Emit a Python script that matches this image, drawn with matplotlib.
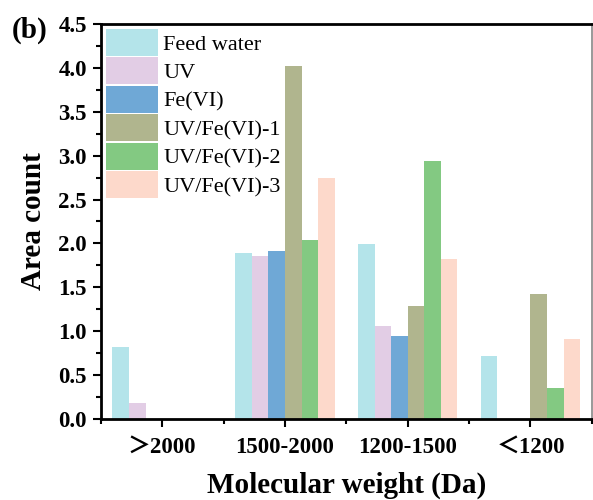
import matplotlib
matplotlib.use("Agg")
import matplotlib.pyplot as plt
import numpy as np
from matplotlib.ticker import MultipleLocator

categories = ["＞2000", "1500-2000", "1200-1500", "＜1200"]
series_names = ["Feed water", "UV", "Fe(VI)", "UV/Fe(VI)-1", "UV/Fe(VI)-2", "UV/Fe(VI)-3"]
feed_water = [0.82, 1.89, 1.99, 0.72]
uv = [0.18, 1.86, 1.06, 0.0]
fe6 = [0.0, 1.91, 0.95, 0.0]
uv_fe1 = [0.0, 4.02, 1.29, 1.42]
uv_fe2 = [0.0, 2.04, 2.94, 0.35]
uv_fe3 = [0.0, 2.74, 1.82, 0.91]
colors = ["#B4E4EA", "#E2CDE5", "#6FA8D6", "#B0B58E", "#83C982", "#FDD9CB"]

plt.rcParams['font.family'] = ['Liberation Serif', 'Noto Sans CJK SC']

fig = plt.figure(figsize=(5.93, 5.0), dpi=100)
ax = fig.add_axes([0.170, 0.162, 0.828, 0.790])

x = np.arange(len(categories))
w = 0.135
all_vals = [feed_water, uv, fe6, uv_fe1, uv_fe2, uv_fe3]
for i, (vals, name, c) in enumerate(zip(all_vals, series_names, colors)):
    ax.bar(x + (i - 2.5) * w, vals, width=w, color=c, label=name, edgecolor='none')

ax.set_xlim(-0.5, 3.5)
ax.set_ylim(0, 4.5)
ax.yaxis.set_minor_locator(MultipleLocator(0.25))
ax.set_xticks(x)
ax.set_xticks(np.arange(-0.5, 3.6, 1.0), minor=True)
ax.set_xticklabels(categories, fontsize=16.5, fontweight='bold')
yt = np.arange(0, 4.51, 0.5)
ax.set_yticks(yt)
ax.set_yticklabels([f"{v:.1f}" for v in yt], fontsize=16.5, fontweight='bold')

ax.tick_params(axis='both', which='major', direction='out', length=6, width=1.5, pad=4)
ax.tick_params(axis='both', which='minor', direction='out', length=3.5, width=1.5)
ax.tick_params(axis='x', which='major', pad=7)

for s in ['left', 'bottom', 'top']:
    ax.spines[s].set_linewidth(2.0)
    ax.spines[s].set_color('black')
ax.spines['right'].set_linewidth(1.2)
ax.spines['right'].set_color('#888888')

ax.set_ylabel("Area count", fontsize=21, fontweight='bold', labelpad=8)
ax.set_xlabel("Molecular weight (Da)", fontsize=21, fontweight='bold', labelpad=10)

leg = ax.legend(loc='upper left', bbox_to_anchor=(0.0, 1.0), frameon=False,
                fontsize=16, handlelength=2.35, handleheight=1.5,
                labelspacing=0.06, handletextpad=0.25, borderpad=0.22,
                borderaxespad=0.0)

fig.text(0.02, 0.94, "(b)", fontsize=21, fontweight='bold', ha='left', va='center')

fig.savefig("out.png", dpi=100)
